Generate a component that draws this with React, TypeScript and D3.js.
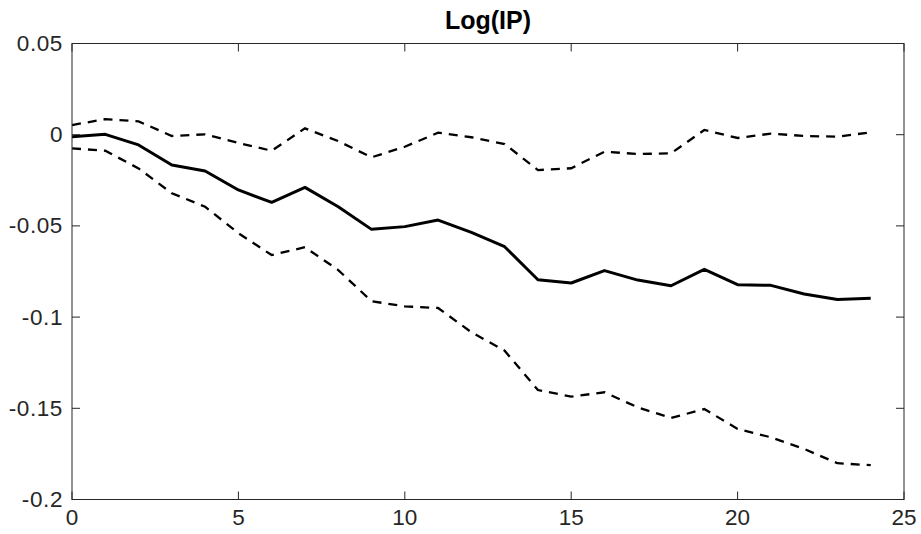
import React from "react";
import * as d3 from "d3";

const title = "Log(IP)";
const horizons = d3.range(0, 25);
const irf = [-0.0011, 0.0002, -0.0056, -0.0166, -0.0199, -0.0303, -0.0371, -0.0289, -0.0395, -0.0519, -0.0504, -0.0468, -0.0535, -0.0614, -0.0795, -0.0813, -0.0745, -0.0797, -0.0828, -0.0738, -0.0822, -0.0826, -0.0873, -0.0904, -0.0897];
const upper = [0.0053, 0.0085, 0.0073, -0.0007, 0.0002, -0.0045, -0.0088, 0.0035, -0.0035, -0.0124, -0.0066, 0.0011, -0.0014, -0.0051, -0.0194, -0.0184, -0.0093, -0.0106, -0.0102, 0.0026, -0.0018, 0.0006, -0.0007, -0.0011, 0.0013];
const lower = [-0.0075, -0.0088, -0.0185, -0.0321, -0.0395, -0.054, -0.066, -0.0617, -0.0742, -0.0913, -0.0941, -0.095, -0.1083, -0.1184, -0.14, -0.1436, -0.1412, -0.1495, -0.1553, -0.1504, -0.1613, -0.1659, -0.1723, -0.1801, -0.1812];
const xTicks = [0, 5, 10, 15, 20, 25];
const yTicks = [0.05, 0, -0.05, -0.1, -0.15, -0.2];
const yTickLabels = ["0.05", "0", "-0.05", "-0.1", "-0.15", "-0.2"];

const W = 921, H = 534;
const L = 72, R = 904, T = 43.5, B = 499.5;

export default function App() {
  const x = d3.scaleLinear().domain([0, 25]).range([L, R]);
  const y = d3.scaleLinear().domain([-0.2, 0.05]).range([B, T]);
  const line = d3.line<number>().x((_, i) => x(horizons[i])).y((d) => y(d));
  const axisColor = "#262626";
  const font = "'Liberation Sans', Arial, Helvetica, sans-serif";
  return (
    <svg width={W} height={H} style={{ position: "absolute", left: 0, top: 0, background: "#fff" }}>
      <rect x={0} y={0} width={W} height={H} fill="#fff" />
      <path d={line(upper) || ""} fill="none" stroke="#000" strokeWidth={2.3} strokeDasharray="9,7" />
      <path d={line(lower) || ""} fill="none" stroke="#000" strokeWidth={2.3} strokeDasharray="9,7" />
      <path d={line(irf) || ""} fill="none" stroke="#000" strokeWidth={3} strokeLinejoin="round" />
      <rect x={L} y={T} width={R - L} height={B - T} fill="none" stroke={axisColor} strokeWidth={1} />
      {xTicks.map((t) => (
        <g key={"x" + t}>
          <line x1={x(t)} x2={x(t)} y1={B} y2={B - 8} stroke={axisColor} />
          <line x1={x(t)} x2={x(t)} y1={T} y2={T + 8} stroke={axisColor} />
          <text x={x(t)} y={B + 25} textAnchor="middle" fontFamily={font} fontSize={22.5} fill={axisColor}>{t}</text>
        </g>
      ))}
      {yTicks.map((t, i) => (
        <g key={"y" + t}>
          <line x1={L} x2={L + 8} y1={y(t)} y2={y(t)} stroke={axisColor} />
          <line x1={R} x2={R - 8} y1={y(t)} y2={y(t)} stroke={axisColor} />
          <text x={L - 9} y={y(t) + 7.5} textAnchor="end" fontFamily={font} fontSize={22.5} fill={axisColor} letterSpacing={0.6}>{yTickLabels[i]}</text>
        </g>
      ))}
      <text x={(L + R) / 2} y={28.5} textAnchor="middle" fontFamily={font} fontSize={25} fontWeight="bold" fill="#000">{title}</text>
    </svg>
  );
}
